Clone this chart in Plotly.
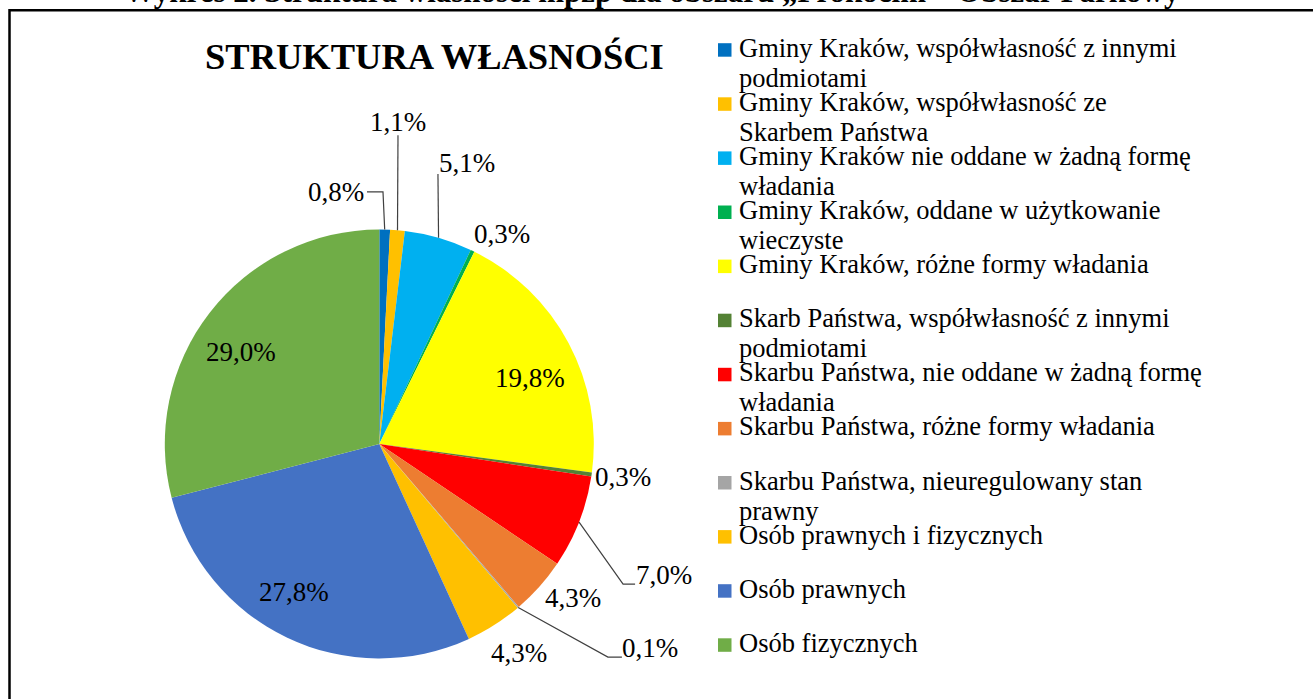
import math
import plotly.graph_objects as go

W, H = 1313, 699

# ---------------- data ----------------
categories = [
    "Gminy Kraków, współwłasność z innymi\npodmiotami",
    "Gminy Kraków, współwłasność ze\nSkarbem Państwa",
    "Gminy Kraków nie oddane w żadną formę\nwładania",
    "Gminy Kraków, oddane w użytkowanie\nwieczyste",
    "Gminy Kraków, różne formy władania",
    "Skarb Państwa, współwłasność z innymi\npodmiotami",
    "Skarbu Państwa, nie oddane w żadną formę\nwładania",
    "Skarbu Państwa, różne formy władania",
    "Skarbu Państwa, nieuregulowany stan\nprawny",
    "Osób prawnych i fizycznych",
    "Osób prawnych",
    "Osób fizycznych",
]
shares = [0.8, 1.1, 5.1, 0.3, 19.8, 0.3, 7.0, 4.3, 0.1, 4.3, 27.8, 29.0]
colors = ["#0070C0", "#FFC000", "#00B0F0", "#00B050", "#FFFF00", "#548235",
          "#FF0000", "#ED7D31", "#A5A5A5", "#FFC000", "#4472C4", "#70AD47"]
chart_title = "STRUKTURA WŁASNOŚCI"
header = "Wykres 2. Struktura własności mpzp dla obszaru „Prokocim – Obszar Parkowy”"

# ---------------- style ----------------
SERIF = "Liberation Serif, Times New Roman, serif"
CX, CY, R = 379.3, 444.0, 214.5          # pie centre / radius in pixels
LABEL_FS = 27
LEGEND_FS = 26.5
# label placement: radial factor + pixel offset from that point
label_rf = [1, 1, 1, 1, 0.77, 1, 1, 1, 1, 1, 0.79, 0.79]
label_dx = [-48.7, 0.5, 28.4, 29, 5, 31, 85, 34, 131.7, 25, -12.6, -4]
label_dy = [-37.6, -108, -74.8, -17, 12, 2, 53, 11, 40.7, 28, -5, 12]
# leader polylines (points relative to label centre), None = no leader
leaders = [[(47, 0), (31, 0)], [(0, 13)], [(-29, 11)], None, None, None,
           [(-41, 9), (-29, 9)], None, [(-42, 9), (-28, 9)], None, None, None]


def px(x):
    return x / W


def py(y):
    return 1 - y / H


fig = go.Figure()
fig.add_trace(go.Pie(
    labels=[c.replace("\n", " ") for c in categories],
    values=shares,
    marker=dict(colors=colors, line=dict(width=0)),
    sort=False, direction="clockwise", rotation=0,
    textinfo="none", showlegend=False, hoverinfo="label+percent",
    domain=dict(x=[px(CX - R), px(CX + R)], y=[py(CY + R), py(CY - R)]),
))

annotations = []
shapes = []

total = sum(shares)
cum = 0.0
for i, v in enumerate(shares):
    mid = 2 * math.pi * (cum + v / 2) / total
    cum += v
    ex = CX + R * label_rf[i] * math.sin(mid)
    ey = CY - R * label_rf[i] * math.cos(mid)
    lx, ly = ex + label_dx[i], ey + label_dy[i]
    txt = ("%.1f%%" % v).replace(".", ",")
    annotations.append(dict(x=px(lx), y=py(ly), xref="paper", yref="paper",
                            text=txt, showarrow=False, xanchor="center", yanchor="middle",
                            font=dict(family=SERIF, size=LABEL_FS, color="#000000")))
    if leaders[i]:
        ex1 = CX + R * math.sin(mid)
        ey1 = CY - R * math.cos(mid)
        path = "M %f,%f" % (px(ex1), py(ey1))
        for (ddx, ddy) in leaders[i]:
            path += " L %f,%f" % (px(lx + ddx), py(ly + ddy))
        shapes.append(dict(type="path", path=path, xref="paper", yref="paper",
                           line=dict(color="#404040", width=1.2)))

# legend drawn as text rows with square markers
LEG_X0, LEG_TX = 718, 737
LEG_BASE0, LEG_STEP, LEG_LINE = 56.7, 54.1, 30
for i, c in enumerate(categories):
    base = LEG_BASE0 + i * LEG_STEP
    shapes.append(dict(type="rect", xref="paper", yref="paper",
                       x0=px(LEG_X0), x1=px(LEG_X0 + 13.5), y0=py(base), y1=py(base - 13.5),
                       fillcolor=colors[i], line=dict(width=0)))
    for j, line in enumerate(c.split("\n")):
        b = base + j * LEG_LINE
        annotations.append(dict(x=px(LEG_TX), y=py(b - 0.3375 * LEGEND_FS), xref="paper", yref="paper",
                                text=line, showarrow=False, xanchor="left", yanchor="middle",
                                font=dict(family=SERIF, size=LEGEND_FS, color="#000000")))

# chart title
annotations.append(dict(x=px(434), y=py(57), xref="paper", yref="paper", text="<b>%s</b>" % chart_title,
                        showarrow=False, xanchor="center", yanchor="middle",
                        font=dict(family=SERIF, size=36.5, color="#000000")))
# cut-off document caption above the frame
annotations.append(dict(x=px(122), y=py(-8.5), xref="paper", yref="paper", text="<b>%s</b>" % header,
                        showarrow=False, xanchor="left", yanchor="middle",
                        font=dict(family=SERIF, size=31, color="#000000")))

# frame
shapes.append(dict(type="rect", xref="paper", yref="paper", x0=px(9.5), x1=px(1340),
                   y0=py(10.3), y1=py(760), line=dict(color="#000000", width=2.5)))

fig.update_layout(
    width=W, height=H,
    margin=dict(l=0, r=0, t=0, b=0),
    paper_bgcolor="#FFFFFF", plot_bgcolor="#FFFFFF",
    annotations=annotations, shapes=shapes,
)
fig.write_html("out.html")
